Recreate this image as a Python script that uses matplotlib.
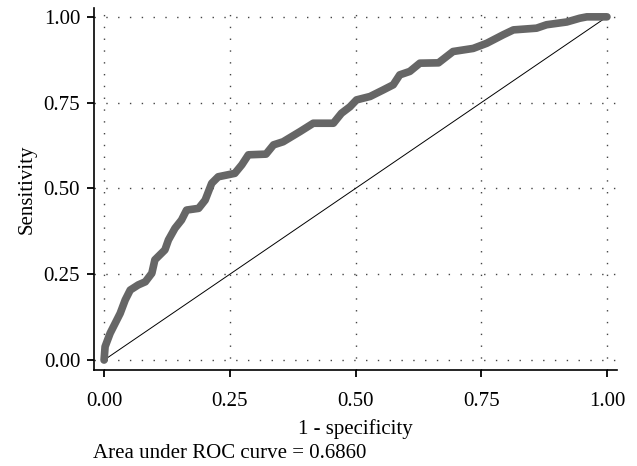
import matplotlib
matplotlib.use("Agg")
import matplotlib.pyplot as plt

plt.rcParams['font.family'] = ['Liberation Serif', 'DejaVu Serif']
plt.rcParams['lines.scale_dashes'] = False

# ROC curve points
fpr = [0.0, 0.002, 0.012, 0.022, 0.032, 0.042, 0.052, 0.068, 0.082, 0.095, 0.101,
       0.121, 0.128, 0.141, 0.154, 0.164, 0.188, 0.201, 0.214, 0.227, 0.260, 0.274,
       0.287, 0.322, 0.337, 0.356, 0.390, 0.416, 0.456, 0.472, 0.489, 0.502, 0.529,
       0.555, 0.575, 0.588, 0.608, 0.628, 0.665, 0.694, 0.734, 0.761, 0.794, 0.814,
       0.860, 0.880, 0.920, 0.946, 0.960, 1.0]
tpr = [0.0, 0.039, 0.078, 0.107, 0.136, 0.175, 0.204, 0.219, 0.228, 0.253, 0.292,
       0.321, 0.350, 0.384, 0.408, 0.437, 0.442, 0.466, 0.515, 0.534, 0.544, 0.569,
       0.598, 0.600, 0.627, 0.636, 0.666, 0.690, 0.690, 0.719, 0.738, 0.758, 0.768,
       0.787, 0.802, 0.831, 0.841, 0.865, 0.866, 0.899, 0.908, 0.923, 0.948, 0.962,
       0.967, 0.977, 0.985, 0.996, 1.0, 1.0]
ticks = [0.0, 0.25, 0.5, 0.75, 1.0]
tick_labels = ["0.00", "0.25", "0.50", "0.75", "1.00"]
auc = 0.6860

fig = plt.figure(figsize=(6.37, 4.66), dpi=100)
ax = fig.add_axes([0.1476, 0.206, 0.821, 0.777])

for t in ticks:
    ax.axvline(t, color='#444444', lw=1.0, ls=(0, (1, 7.5)), zorder=0)
    ax.axhline(t, color='#444444', lw=1.0, ls=(0, (1, 7.5)), zorder=0)

ax.plot([0, 1], [0, 1], color='black', lw=0.7, zorder=2)
ax.plot(fpr, tpr, color='#666666', lw=5.5, solid_joinstyle='round',
        solid_capstyle='round', zorder=3)

ax.set_xlim(-0.02, 1.02)
ax.set_ylim(-0.029, 1.026)
ax.set_xticks(ticks)
ax.set_xticklabels(tick_labels)
ax.set_yticks(ticks)
ax.set_yticklabels(tick_labels)
ax.tick_params(direction='out', length=5, width=1.3, labelsize=15, pad=5)
ax.tick_params(axis='x', pad=11)

for s in ['top', 'right']:
    ax.spines[s].set_visible(False)
for s in ['left', 'bottom']:
    ax.spines[s].set_linewidth(1.2)

ax.set_xlabel("1 - specificity", fontsize=15, labelpad=6)
ax.set_ylabel("Sensitivity", fontsize=15, labelpad=5)

fig.text(93 / 637, 1 - 454 / 466, "Area under ROC curve = %.4f" % auc,
         fontsize=15, va='center', ha='left')

fig.savefig("out.png", dpi=100)
